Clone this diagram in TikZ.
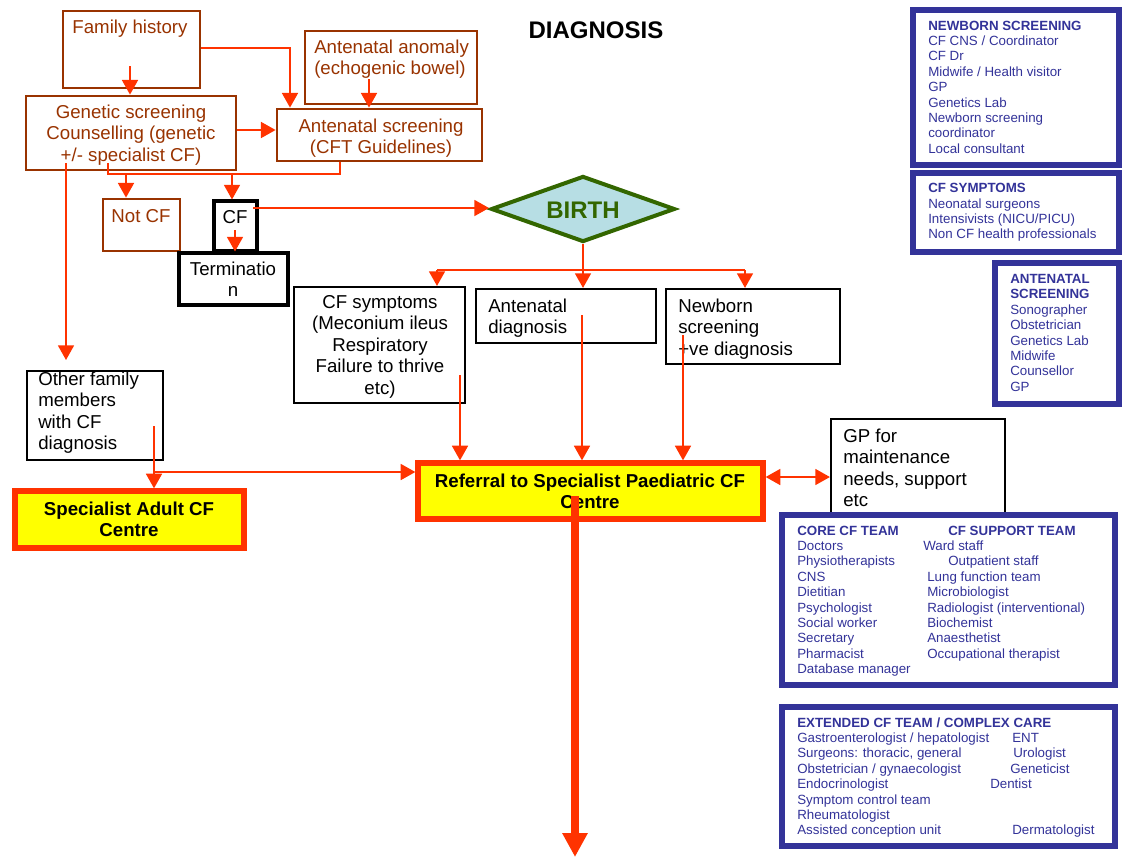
\documentclass[tikz,border=0pt]{standalone}
\usepackage{fontspec}
\setmainfont{Liberation Sans}
\usetikzlibrary{arrows.meta,fit,shapes.geometric}
\definecolor{brn}{RGB}{153,51,0}
\definecolor{rd}{RGB}{255,51,0}
\definecolor{bl}{RGB}{51,51,153}
\definecolor{grn}{RGB}{51,102,0}
\definecolor{lblue}{RGB}{183,222,228}
\definecolor{yel}{RGB}{255,255,0}
\newcommand\txc[1]{\begin{tabular}[t]{@{}c@{}}#1\end{tabular}}
\newcommand\txl[1]{\begin{tabular}[t]{@{}l@{}}#1\end{tabular}}
\newcommand\fmain{\fontsize{14}{16.2}\selectfont}
\newcommand\fsm{\fontsize{10}{11.55}\selectfont}
\tikzset{
  brbox/.style={draw=brn,line width=2.1pt,inner sep=0pt},
  bkbox/.style={draw=black,line width=1.6pt,inner sep=0pt},
  bkthick/.style={draw=black,line width=2.3pt,inner sep=0pt},
  ybox/.style={draw=rd,fill=yel,line width=4pt,inner sep=0pt},
  blbox/.style={draw=bl,fill=white,line width=4.5pt,inner sep=0pt},
  btxt/.style={font=\fmain,text=brn,inner sep=0pt},
  ktxt/.style={font=\fmain,text=black,inner sep=0pt},
  kbold/.style={font=\fmain\bfseries,text=black,inner sep=0pt},
  rtxt/.style={font=\fsm,text=bl,inner sep=0pt,anchor=base west},
  rline/.style={draw=rd,line width=1.3pt},
  conn/.style={rline,-{Triangle[width=12pt,length=11pt]}},
  dconn/.style={rline,{Triangle[width=12pt,length=11pt]}-{Triangle[width=12pt,length=11pt]}},
  bigarrow/.style={draw=rd,line width=6pt,-{Triangle[width=18pt,length=18pt]}},
}
\begin{document}
\begin{tikzpicture}[x=0.75pt,y=-0.75pt]
\useasboundingbox (0,0) rectangle (1128,865);
\fill[white] (0,0) rectangle (1128,865);

% title
\node[font=\fontsize{18}{20}\selectfont\bfseries,inner sep=0pt,anchor=base] (title) at (596,38) {DIAGNOSIS};

% brown boxes
\node[brbox,fit={(63,11)(200,88)}] (fh) {};
\node[btxt,anchor=base] (fht) at (130,33) {Family history};
\node[brbox,fit={(305,31)(477,104)}] (anom) {};
\node[btxt,anchor=base west] (anomt) at (314,53) {\txl{Antenatal anomaly\\(echogenic bowel)}};
\node[brbox,fit={(26,96)(236,170)}] (gen) {};
\node[btxt,anchor=base] (gent) at (131,118) {\txc{Genetic screening\\Counselling (genetic\\+/- specialist CF)}};
\node[brbox,fit={(277,109)(482,161)}] (ans) {};
\node[btxt,anchor=base] (anst) at (381,132) {\txc{Antenatal screening\\(CFT Guidelines)}};
\node[brbox,fit={(103,199)(180,251)}] (notcf) {};
\node[btxt,anchor=base] (notcft) at (141,222) {Not CF};

% black boxes
\node[bkthick,fit={(179,253)(288,305)}] (term) {};
\node[ktxt,anchor=base] (termt) at (233,275) {\txc{Terminatio\\n}};
\node[bkthick,fit={(214,201)(257,251)}] (cf) {};
\node[ktxt,anchor=base] (cft) at (235,223) {CF};

% birth
\node[draw=grn,fill=lblue,line width=3pt,diamond,minimum width=138pt,minimum height=49.5pt,inner sep=0pt] (birth) at (583,209) {};
\node[font=\fontsize{18}{20}\selectfont\bfseries,text=grn,inner sep=0pt,anchor=base] (birtht) at (583,218) {BIRTH};

\node[bkbox,fit={(294,287)(465,403)}] (cfsym) {};
\node[ktxt,anchor=base] (cfsymt) at (380,308) {\txc{CF symptoms\\(Meconium ileus\\Respiratory\\Failure to thrive\\etc)}};
\node[bkbox,fit={(476,289)(656,343)}] (andiag) {};
\node[ktxt,anchor=base west] (andiagt) at (488,312) {\txl{Antenatal\\diagnosis}};
\node[bkbox,fit={(666,289)(840,364)}] (nbs) {};
\node[ktxt,anchor=base west] (nbst) at (678,312) {\txl{Newborn\\screening\\+ve diagnosis}};
\node[bkbox,fit={(27,371)(163,460)}] (other) {};
\node[ktxt,anchor=base west] (othert) at (38,385) {\txl{Other family\\members\\with CF\\diagnosis}};
\node[bkbox,fit={(831,419)(1005,516)}] (gp) {};
\node[ktxt,anchor=base west] (gpt) at (843,442) {\txl{GP for\\maintenance\\needs, support\\etc}};

% yellow boxes
\node[ybox,fit={(15,491)(244,548)}] (adult) {};
\node[kbold,anchor=base] (adultt) at (129,515) {\txc{Specialist Adult CF\\Centre}};
\node[ybox,fit={(418,463)(763,519)}] (ref) {};
\node[kbold,anchor=base] (reft) at (590,487) {\txc{Referral to Specialist Paediatric CF\\Centre}};

% blue boxes
\node[blbox,fit={(913,10)(1119,165)}] (nbbox) {};
\node[rtxt] (nbboxt) at (928,30) {\txl{\textbf{NEWBORN SCREENING}\\CF CNS / Coordinator\\CF Dr\\Midwife / Health visitor\\GP\\Genetics Lab\\Newborn screening\\coordinator\\Local consultant}};
\node[blbox,fit={(913,173)(1119,252)}] (symbox) {};
\node[rtxt] (symboxt) at (928,192.7) {\txl{\textbf{CF SYMPTOMS}\\Neonatal surgeons\\Intensivists (NICU/PICU)\\Non CF health professionals}};
\node[blbox,fit={(995,263)(1119,404)}] (anbox) {};
\node[rtxt] (anboxt) at (1010,283.5) {\txl{\textbf{ANTENATAL}\\\textbf{SCREENING}\\Sonographer\\Obstetrician\\Genetics Lab\\Midwife\\Counsellor\\GP}};
\node[blbox,fit={(782,515)(1115,685)}] (core) {};
\node[rtxt] (coret) at (797,535) {\txl{\textbf{CORE CF TEAM}\\Doctors\\Physiotherapists\\CNS\\Dietitian\\Psychologist\\Social worker\\Secretary\\Pharmacist\\Database manager}};
\node[rtxt] (coret2) at (923,535) {\txl{\hspace*{18.75pt}\textbf{CF SUPPORT TEAM}\\Ward staff\\\hspace*{18.75pt}Outpatient staff\\\hspace*{3pt}Lung function team\\\hspace*{3pt}Microbiologist\\\hspace*{3pt}Radiologist (interventional)\\\hspace*{3pt}Biochemist\\\hspace*{3pt}Anaesthetist\\\hspace*{3pt}Occupational therapist}};
\node[blbox,fit={(782,707)(1115,846)}] (ext) {};
\node[rtxt] (extt) at (797,727) {\txl{\textbf{EXTENDED CF TEAM / COMPLEX CARE}\\Gastroenterologist / hepatologist\\Surgeons: thoracic, general\\Obstetrician / gynaecologist\\Endocrinologist\\Symptom control team\\Rheumatologist\\Assisted conception unit}};
\node[rtxt] (ext1) at (1012,742.4) {ENT};
\node[rtxt] (ext2) at (1013,757.8) {Urologist};
\node[rtxt] (ext3) at (1010,773.2) {Geneticist};
\node[rtxt] (ext4) at (990,788.6) {Dentist};
\node[rtxt] (ext5) at (1012,834.8) {Dermatologist};

% connectors
\coordinate (s1) at (130,66);
\draw[conn] (s1) -- (s1 |- gen.north);
\coordinate (c1) at (290,48);
\draw[conn] (fh.east |- c1) -| (c1 |- ans.north);
\coordinate (s2) at (369,79);
\draw[conn] (s2) -- (s2 |- ans.north);
\coordinate (c2) at (250,130);
\draw[conn] (gen.east |- c2) -- (ans.west |- c2);
\coordinate (s3) at (108,163);
\coordinate (c3) at (340,174);
\draw[rline] (s3) |- (c3) -- (c3 |- ans.south);
\coordinate (d1) at (126,174);
\draw[conn] (d1) -- (d1 |- notcf.north);
\coordinate (d2) at (232,174);
\draw[conn] (d2) -- (d2 |- cf.north);
\coordinate (s4) at (253,208);
\draw[conn] (s4) -- (s4 -| birth.west);
\coordinate (s5) at (235,230);
\draw[conn] (s5) -- (s5 |- term.north);
\coordinate (s6) at (66,163);
\coordinate (e6) at (66,360);
\draw[conn] (s6) -- (e6);
\draw[conn] (birth.south) -- (birth.south |- andiag.north);
\coordinate (c4) at (437,270);
\coordinate (c5) at (745,270);
\draw[rline] (c4) -- (c5);
\draw[conn] (c4) -- (c4 |- cfsym.north);
\draw[conn] (c5) -- (c5 |- nbs.north);
\coordinate (s7) at (460,375);
\draw[conn] (s7) -- (s7 |- ref.north);
\coordinate (s8) at (582,315);
\draw[conn] (s8) -- (s8 |- ref.north);
\coordinate (s9) at (683,335);
\draw[conn] (s9) -- (s9 |- ref.north);
\coordinate (s10) at (154,426);
\draw[conn] (s10) -- (s10 |- adult.north);
\coordinate (c6) at (154,472);
\draw[conn] (c6) -- (c6 -| ref.west);
\coordinate (c7) at (800,477);
\draw[dconn] (c7 -| ref.east) -- (c7 -| gp.west);
\coordinate (s11) at (575,496);
\coordinate (e11) at (575,857);
\draw[bigarrow] (s11) -- (e11);
\end{tikzpicture}
\end{document}
